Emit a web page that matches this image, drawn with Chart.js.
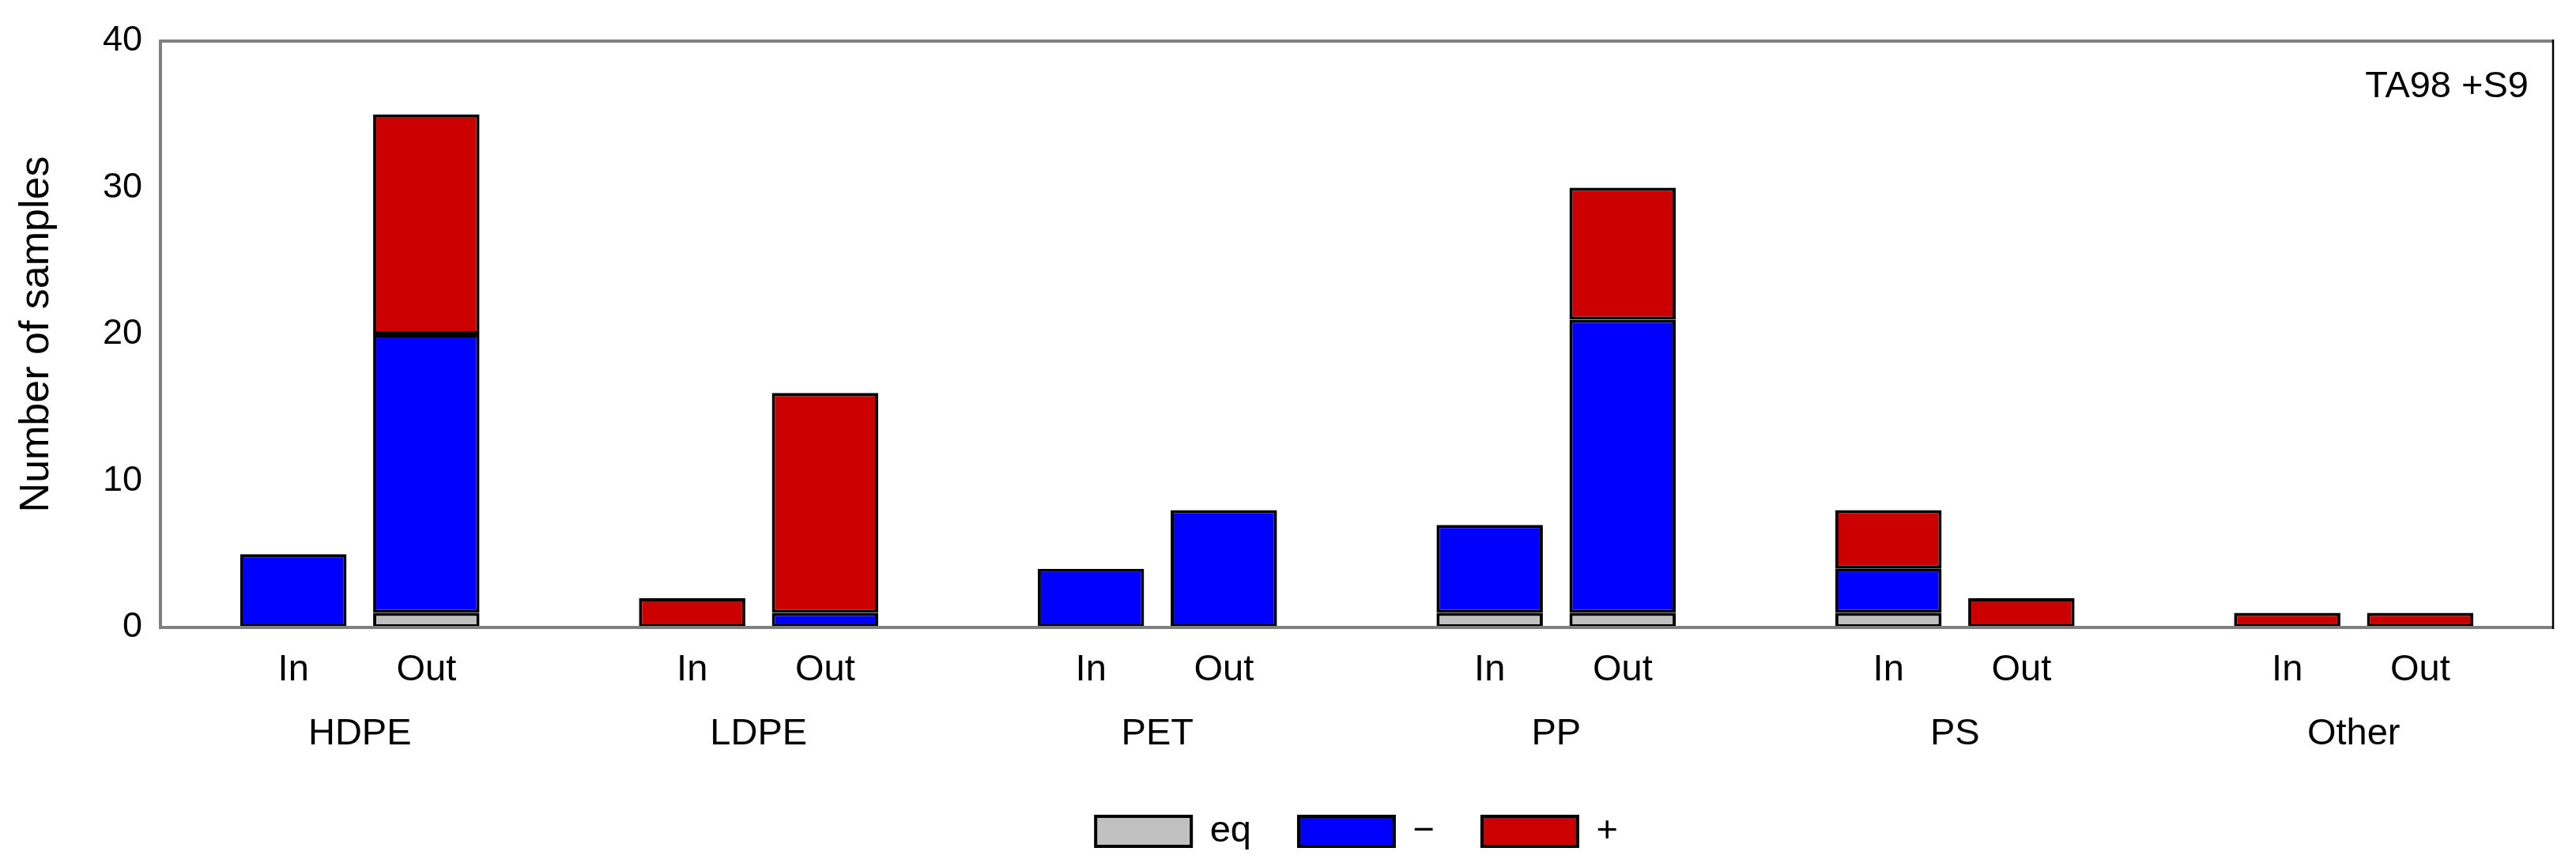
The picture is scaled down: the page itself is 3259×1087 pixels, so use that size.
<!DOCTYPE html>
<html>
<head>
<meta charset="utf-8">
<script src="https://cdn.jsdelivr.net/npm/chart.js@4"></script>
<style>
  body { margin: 0; background: #fff; }
</style>
</head>
<body>
<canvas id="chart" width="3259" height="1087"></canvas>
<script>
const ctx = document.getElementById('chart');

// plastic type groups, each with an In and an Out bar
const groups = ['HDPE', 'LDPE', 'PET', 'PP', 'PS', 'Other'];
const positions = ['In', 'Out'];

// values per bar, order: HDPE In, HDPE Out, LDPE In, LDPE Out, ...
const eqValues  = [0, 1, 0, 0, 0, 0, 1, 1, 1, 0, 0, 0];
const negValues = [5, 19, 0, 1, 4, 8, 6, 20, 3, 0, 0, 0];
const posValues = [0, 15, 2, 15, 0, 0, 0, 9, 4, 2, 1, 1];

const yTicks = [0, 10, 20, 30, 40];
const FONT = "'Liberation Sans', Arial, sans-serif";

// slots: blank, then In, Out, blank for each group
let slotLabels = [''];
groups.forEach(() => { slotLabels.push(positions[0], positions[1], ''); });

function toSlots(values) {
    let out = new Array(slotLabels.length).fill(null);
    for (let i = 0; i < values.length; i++) {
        let g = Math.floor(i / 2);
        let p = i % 2;
        out[1 + g * 3 + p] = values[i] === 0 ? null : values[i];
    }
    return out;
}

const frame = {
    id: 'frame',
    afterDatasetsDraw(chart) {
        const a = chart.chartArea;
        const c = chart.ctx;
        c.save();
        c.strokeStyle = '#808080';
        c.lineWidth = 4;
        c.beginPath();
        c.moveTo(a.right, a.top);
        c.lineTo(a.left, a.top);
        c.lineTo(a.left, a.bottom);
        c.lineTo(a.right, a.bottom);
        c.stroke();
        c.strokeStyle = '#000';
        c.lineWidth = 2.5;
        c.beginPath();
        c.moveTo(a.right, a.top - 2);
        c.lineTo(a.right, a.bottom + 2);
        c.stroke();
        // panel label
        c.fillStyle = '#000';
        c.font = '47px ' + FONT;
        c.textAlign = 'right';
        c.textBaseline = 'alphabetic';
        c.fillText('TA98 +S9', a.right - 31, a.top + 71);
        c.restore();
    }
};

const barStyle = { borderColor: '#000', borderWidth: 4, borderSkipped: false, xAxisID: 'x', yAxisID: 'y' };

new Chart(ctx, {
    type: 'bar',
    data: {
        labels: slotLabels,
        datasets: [
            Object.assign({ label: 'eq', data: toSlots(eqValues), backgroundColor: '#c0c0c0' }, barStyle),
            Object.assign({ label: '\u2212', data: toSlots(negValues), backgroundColor: '#0000ff' }, barStyle),
            Object.assign({ label: '+', data: toSlots(posValues), backgroundColor: '#cc0000' }, barStyle)
        ]
    },
    options: {
        responsive: false,
        devicePixelRatio: 1,
        animation: false,
        categoryPercentage: 0.8,
        barPercentage: 1,
        layout: { padding: { left: 0, right: 29, top: 52, bottom: 1.5 } },
        plugins: {
            tooltip: { enabled: false },
            legend: {
                position: 'bottom',
                fullSize: false,
                labels: {
                    boxWidth: 121,
                    boxHeight: 38,
                    padding: 60,
                    color: '#000',
                    font: { family: FONT, size: 47 }
                }
            }
        },
        scales: {
            x: {
                stacked: true,
                offset: false,
                weight: 0,
                grid: { display: false, drawTicks: false },
                border: { display: false },
                ticks: { autoSkip: false, maxRotation: 0, padding: 26, color: '#000', font: { family: FONT, size: 47 } },
                afterFit: (scale) => { scale.height = 107; }
            },
            x2: {
                type: 'category',
                labels: groups,
                position: 'bottom',
                offset: true,
                weight: 1,
                grid: { display: false, drawTicks: false },
                border: { display: false },
                ticks: { autoSkip: false, maxRotation: 0, padding: 0, color: '#000', font: { family: FONT, size: 47 } },
                afterFit: (scale) => { scale.height = 67.5; }
            },
            y: {
                stacked: true,
                min: yTicks[0],
                max: yTicks[yTicks.length - 1],
                grid: { display: false, drawTicks: false },
                border: { display: false },
                ticks: { stepSize: 10, padding: 23, color: '#000', font: { family: FONT, size: 45 } },
                title: {
                    display: true,
                    text: 'Number of samples',
                    color: '#000',
                    padding: { top: 15, bottom: 0 },
                    font: { family: FONT, size: 52 }
                },
                afterFit: (scale) => { scale.width = 203; }
            }
        }
    },
    plugins: [frame]
});
</script>
</body>
</html>
